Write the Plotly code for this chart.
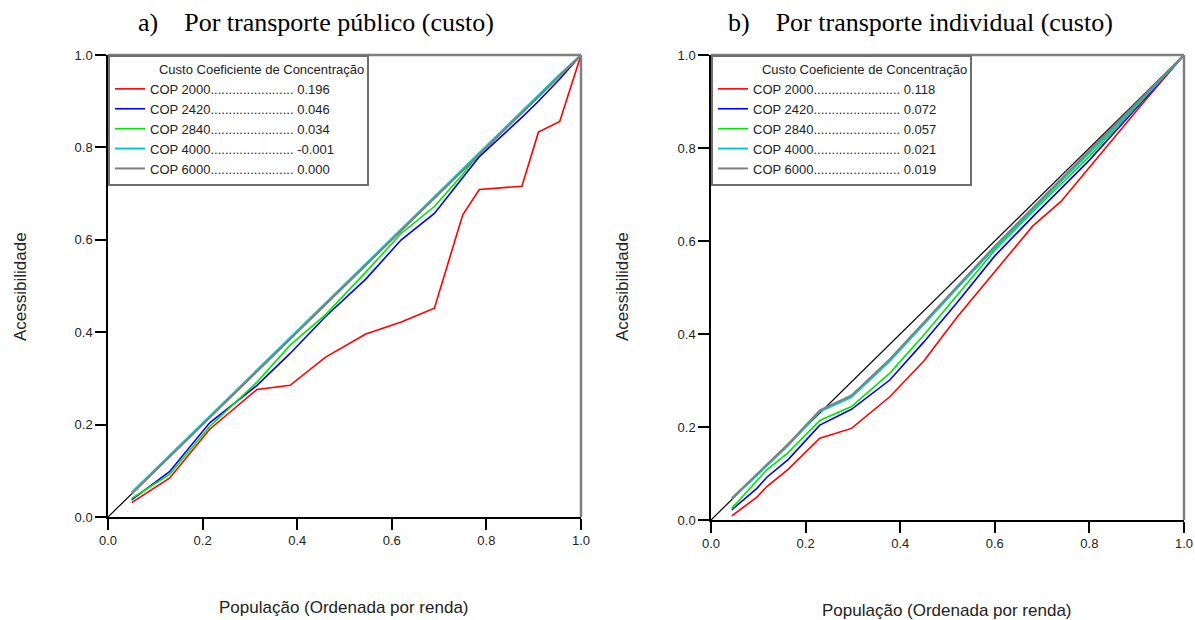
import plotly.graph_objects as go

# ---------------- data ----------------
series_names = ["COP 2000", "COP 2420", "COP 2840", "COP 4000", "COP 6000"]
series_colors = ["#ff0000", "#0000ff", "#00e600", "#00cccc", "#808080"]

# a) public transport (cost)
coef_a = ["0.196", "0.046", "0.034", "-0.001", "0.000"]
x_a = [0.05, 0.13, 0.215, 0.315, 0.385, 0.46, 0.545, 0.62, 0.69, 0.75, 0.785, 0.875, 0.91, 0.955, 1.0]
cop2000_a = [0.031, 0.084, 0.19, 0.276, 0.285, 0.346, 0.396, 0.422, 0.452, 0.654, 0.709, 0.716, 0.833, 0.856, 1.0]
cop2420_a = [0.037, 0.098, 0.204, 0.285, 0.354, 0.434, 0.515, 0.6, 0.657, 0.735, 0.78, 0.865, 0.9, 0.948, 1.0]
cop2840_a = [0.04, 0.092, 0.196, 0.292, 0.372, 0.438, 0.53, 0.614, 0.672, 0.742, 0.787, 0.875, 0.908, 0.955, 1.0]
cop4000_a = [0.053, 0.133, 0.218, 0.318, 0.388, 0.463, 0.548, 0.623, 0.693, 0.753, 0.788, 0.878, 0.913, 0.958, 1.0]
cop6000_a = [0.05, 0.13, 0.215, 0.315, 0.385, 0.46, 0.545, 0.62, 0.69, 0.75, 0.785, 0.875, 0.91, 0.955, 1.0]

# b) individual transport (cost)
coef_b = ["0.118", "0.072", "0.057", "0.021", "0.019"]
x_b = [0.044, 0.097, 0.118, 0.163, 0.23, 0.297, 0.378, 0.45, 0.52, 0.6, 0.68, 0.74, 0.8, 0.87, 0.92, 1.0]
cop2000_b = [0.009, 0.049, 0.072, 0.109, 0.176, 0.197, 0.265, 0.342, 0.436, 0.535, 0.632, 0.685, 0.758, 0.845, 0.905, 1.0]
cop2420_b = [0.022, 0.068, 0.092, 0.13, 0.204, 0.238, 0.301, 0.383, 0.467, 0.568, 0.652, 0.712, 0.774, 0.853, 0.909, 1.0]
cop2840_b = [0.025, 0.085, 0.108, 0.145, 0.214, 0.244, 0.316, 0.398, 0.482, 0.58, 0.663, 0.722, 0.782, 0.858, 0.912, 1.0]
cop4000_b = [0.045, 0.096, 0.117, 0.16, 0.233, 0.264, 0.342, 0.42, 0.498, 0.585, 0.668, 0.729, 0.789, 0.862, 0.914, 1.0]
cop6000_b = [0.047, 0.099, 0.12, 0.163, 0.236, 0.268, 0.346, 0.424, 0.502, 0.589, 0.671, 0.732, 0.793, 0.865, 0.916, 1.0]

# equality line
eq_x = [0.0, 1.0]
eq_y = [0.0, 1.0]

tick_vals = [0.0, 0.2, 0.4, 0.6, 0.8, 1.0]
tick_text = ["0.0", "0.2", "0.4", "0.6", "0.8", "1.0"]

title_a = "a)\u00a0\u00a0\u00a0\u00a0Por transporte público (custo)"
title_b = "b)\u00a0\u00a0\u00a0\u00a0Por transporte individual (custo)"
x_title = "População (Ordenada por renda)"
y_title = "Acessibilidade"
legend_title = "Custo Coeficiente de Concentração"

# ---------------- figure ----------------
W, H = 1195, 620


def fx(px):
    return px / W


def fy(py):
    return 1 - py / H


fig = go.Figure()

SANS = "Liberation Sans, Arial, sans-serif"
SERIF = "Liberation Serif, Times New Roman, serif"


def add_panel(xs, ys_list, coefs, xa, ya, legend_id, ndots):
    fig.add_trace(go.Scatter(x=eq_x, y=eq_y, mode="lines", xaxis=xa, yaxis=ya,
                             line=dict(color="black", width=1.2), showlegend=False,
                             hoverinfo="skip", legend=legend_id))
    for name, col, ys, c in zip(series_names, series_colors, ys_list, coefs):
        label = name + "." * ndots + " " + c
        w = 2 if name in ("COP 4000", "COP 6000") else 1.6
        fig.add_trace(go.Scatter(x=xs, y=ys, mode="lines", name=label, xaxis=xa, yaxis=ya,
                                 line=dict(color=col, width=w), legend=legend_id))


add_panel(x_a, [cop2000_a, cop2420_a, cop2840_a, cop4000_a, cop6000_a], coef_a, "x", "y", "legend", 23)
add_panel(x_b, [cop2000_b, cop2420_b, cop2840_b, cop4000_b, cop6000_b], coef_b, "x2", "y2", "legend2", 24)


def axis(domain, anchor):
    return dict(domain=domain, anchor=anchor, range=[0, 1], tickvals=tick_vals, ticktext=tick_text,
                showline=True, linecolor="black", linewidth=1.5, ticks="outside", ticklen=11,
                tickwidth=1.5, tickcolor="black", showgrid=False, zeroline=False,
                tickfont=dict(family=SANS, size=13, color="#222"), automargin=False, fixedrange=True)


xa_dom = [fx(108), fx(581)]
xb_dom = [fx(711), fx(1184)]
ya_dom = [fy(517), fy(55)]
yb_dom = [fy(520), fy(55)]

legend_common = dict(xanchor="left", yanchor="top", bgcolor="white", bordercolor="#6e6e6e",
                     borderwidth=2, font=dict(family=SANS, size=13, color="#222"),
                     title=dict(text="\u00a0" * 13 + legend_title, font=dict(family=SANS, size=13, color="#222")),
                     itemclick=False, itemdoubleclick=False)

fig.update_layout(
    width=W, height=H, margin=dict(l=0, r=0, t=0, b=0),
    paper_bgcolor="white", plot_bgcolor="white",
    xaxis=axis(xa_dom, "y"), yaxis=axis(ya_dom, "x"),
    xaxis2=axis(xb_dom, "y2"), yaxis2=axis(yb_dom, "x2"),
    legend=dict(x=xa_dom[0], y=ya_dom[1], **legend_common),
    legend2=dict(x=xb_dom[0], y=yb_dom[1], **legend_common),
    showlegend=True,
)

# top/right frame in gray
for xr, yr in (("x domain", "y domain"), ("x2 domain", "y2 domain")):
    fig.add_shape(type="line", xref=xr, yref=yr, x0=0, x1=1, y0=1, y1=1, line=dict(color="#808080", width=2.5))
    fig.add_shape(type="line", xref=xr, yref=yr, x0=1, x1=1, y0=0, y1=1, line=dict(color="#808080", width=2.5))

ann = []
ann.append(dict(text=title_a, x=fx(316), y=fy(22), xref="paper", yref="paper", showarrow=False,
                font=dict(family=SERIF, size=26, color="black"), xanchor="center", yanchor="middle"))
ann.append(dict(text=title_b, x=fx(920), y=fy(22), xref="paper", yref="paper", showarrow=False,
                font=dict(family=SERIF, size=26, color="black"), xanchor="center", yanchor="middle"))
ann.append(dict(text=x_title, x=fx(344), y=fy(607), xref="paper", yref="paper", showarrow=False,
                font=dict(family=SANS, size=17, color="#222"), xanchor="center", yanchor="middle"))
ann.append(dict(text=x_title, x=fx(947), y=fy(610), xref="paper", yref="paper", showarrow=False,
                font=dict(family=SANS, size=17, color="#222"), xanchor="center", yanchor="middle"))
ann.append(dict(text=y_title, x=fx(20), y=fy(287), xref="paper", yref="paper", showarrow=False, textangle=-90,
                font=dict(family=SANS, size=17, color="#222"), xanchor="center", yanchor="middle"))
ann.append(dict(text=y_title, x=fx(622), y=fy(287), xref="paper", yref="paper", showarrow=False, textangle=-90,
                font=dict(family=SANS, size=17, color="#222"), xanchor="center", yanchor="middle"))
fig.update_layout(annotations=ann)

# remove the page's default body margin so the 1195x620 figure fills the window exactly
fig.write_html("out.html",
               config={"displayModeBar": False},
               post_script="document.body.style.margin='0';document.body.style.overflow='hidden';")
